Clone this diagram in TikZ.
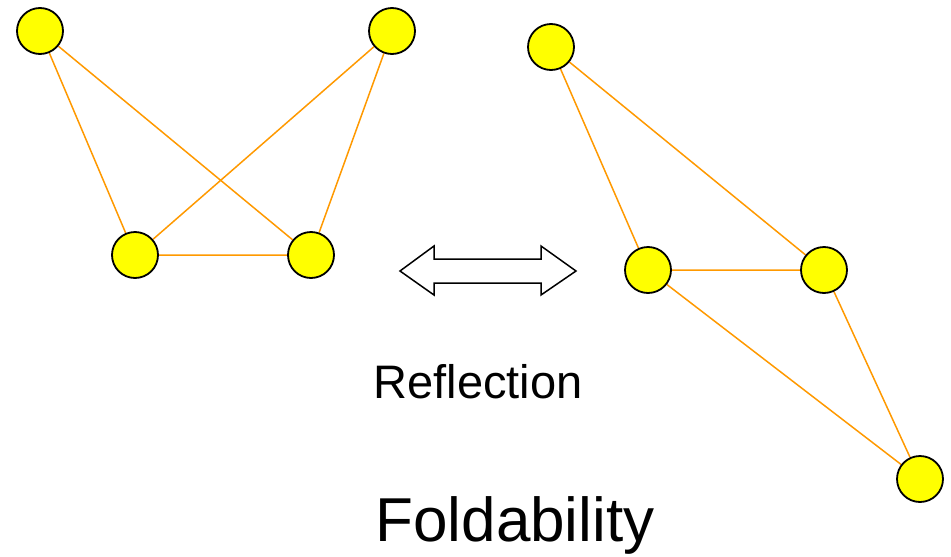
\documentclass[tikz,border=0pt]{standalone}
\usepackage{fontspec}
\setmainfont{Liberation Sans}
\usetikzlibrary{backgrounds}
\definecolor{edgeorange}{RGB}{255,153,0}
\definecolor{nodeyellow}{RGB}{255,255,0}
\begin{document}
\begin{tikzpicture}[x=1pt,y=-1pt,
  vert/.style={circle,draw=black,line width=1.8pt,fill=nodeyellow,minimum size=46pt,inner sep=0pt},
  edge/.style={draw=edgeorange,line width=1.5pt},
  bigarrow/.style={draw=black,line width=1.5pt,fill=white,line join=miter}]
\useasboundingbox (0,0) rectangle (951,557);
% nodes
\node[vert] (a) at (40,31) {};
\node[vert] (b) at (392,31) {};
\node[vert] (c) at (135,255) {};
\node[vert] (d) at (311,255) {};
\node[vert] (e) at (551,47) {};
\node[vert] (f) at (648,270) {};
\node[vert] (g) at (824,270) {};
\node[vert] (h) at (920,479) {};
% edges
\begin{scope}[on background layer]
\path[edge] (a) -- (c) (a) -- (d) (b) -- (c) (b) -- (d) (c) -- (d);
\path[edge] (e) -- (f) (e) -- (g) (f) -- (g) (f) -- (h) (g) -- (h);
\end{scope}
% double arrow
\draw[bigarrow] (400,271) -- (434,246) -- (434,259) -- (541,259) -- (541,246) -- (576,271)
  -- (541,295) -- (541,283) -- (434,283) -- (434,295) -- cycle;
\node[anchor=base,font=\fontsize{47}{52}\selectfont,inner sep=0pt] (refl) at (478,398) {Reflection};
\node[anchor=base,font=\fontsize{62}{68}\selectfont,inner sep=0pt] (fold) at (515,541) {Foldability};
\end{tikzpicture}
\end{document}
